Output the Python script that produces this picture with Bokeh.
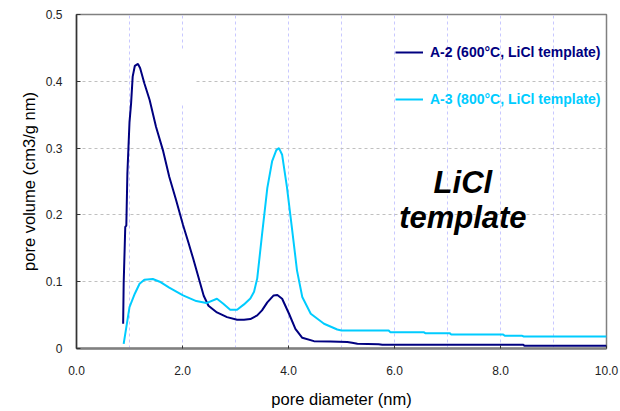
from bokeh.plotting import figure
from bokeh.models import (ColumnDataSource, Range1d, SingleIntervalTicker, NumeralTickFormatter,
                          Legend, LegendItem, Label, BoxAnnotation)
from bokeh.embed import file_html
from bokeh.resources import INLINE

# ---- data ----
a2_x = [0.88, 0.89, 0.92, 0.94, 0.96, 1.0, 1.03, 1.06, 1.10, 1.16, 1.20, 1.28, 1.38, 1.50, 1.63,
        1.75, 1.88, 2.01, 2.11, 2.20, 2.30, 2.40, 2.49, 2.65, 2.84, 3.03, 3.16, 3.28, 3.41, 3.50,
        3.60, 3.72, 3.79, 3.88, 4.01, 4.13, 4.26, 4.48, 4.79, 5.11, 5.20, 5.30, 5.70, 5.77, 8.43,
        8.45, 10.0]
a2_y = [0.037, 0.097, 0.182, 0.184, 0.262, 0.339, 0.367, 0.407, 0.423, 0.426, 0.420, 0.397, 0.372,
        0.332, 0.297, 0.257, 0.222, 0.185, 0.159, 0.135, 0.107, 0.079, 0.064, 0.054, 0.047, 0.043,
        0.043, 0.044, 0.0495, 0.057, 0.069, 0.0795, 0.080, 0.0745, 0.052, 0.0295, 0.016, 0.011,
        0.0105, 0.0098, 0.0085, 0.007, 0.0065, 0.0055, 0.0055, 0.004, 0.004]

a3_x = [0.89, 0.95, 1.0, 1.10, 1.19, 1.28, 1.44, 1.57, 1.75, 2.01, 2.26, 2.45, 2.65, 2.77, 2.90,
        3.03, 3.16, 3.28, 3.35, 3.41, 3.50, 3.60, 3.69, 3.77, 3.82, 3.88, 3.97, 4.07, 4.16, 4.26,
        4.42, 4.67, 4.92, 5.0, 5.89, 5.92, 6.55, 6.58, 7.04, 7.07, 8.05, 8.08, 8.41, 8.44, 10.0]
a3_y = [0.007, 0.037, 0.062, 0.082, 0.097, 0.103, 0.104, 0.100, 0.091, 0.0795, 0.071, 0.068,
        0.0745, 0.067, 0.058, 0.058, 0.066, 0.075, 0.085, 0.105, 0.17, 0.24, 0.28, 0.297, 0.30,
        0.29, 0.242, 0.177, 0.117, 0.077, 0.052, 0.037, 0.0285, 0.027, 0.027, 0.0245, 0.0245,
        0.023, 0.023, 0.021, 0.021, 0.019, 0.019, 0.018, 0.018]

series_labels = ["A-2 (600\u00b0C, LiCl template)", "A-3 (800\u00b0C, LiCl template)"]
series_colors = ["#000080", "#00ccff"]

x_label = "pore diameter (nm)"
y_label = "pore volume (cm3/g nm)"
annotation_lines = ["LiCl", "template"]

FONT = "Liberation Sans"

p = figure(width=620, height=411, output_backend="svg", toolbar_location=None,
           x_range=Range1d(0, 10), y_range=Range1d(0, 0.5),
           min_border_left=76, min_border_right=14, min_border_top=14, min_border_bottom=63)
p.background_fill_color = "white"
p.border_fill_color = "white"
p.outline_line_color = "#808080"
p.outline_line_width = 1.5

# grid
p.xgrid.ticker = SingleIntervalTicker(interval=1)
p.xgrid.grid_line_color = "#c8c8ff"
p.xgrid.grid_line_dash = "3 3"
p.ygrid.ticker = SingleIntervalTicker(interval=0.1)
p.ygrid.grid_line_color = "#c0c0c0"
p.ygrid.grid_line_dash = "3 3"

# artifact white box in the reference (hidden text box covering grid)
p.add_layout(BoxAnnotation(left=1.51, right=2.23, bottom=0.3645, top=0.447,
                           fill_color="white", fill_alpha=1, line_alpha=0, level="underlay"))

# axes
p.xaxis.ticker = SingleIntervalTicker(interval=2)
p.xaxis.formatter = NumeralTickFormatter(format="0.0")
p.yaxis.ticker = SingleIntervalTicker(interval=0.1)
p.yaxis.formatter = NumeralTickFormatter(format="0.0")
p.yaxis.major_label_overrides = {0: "0"}
for ax in (p.xaxis, p.yaxis):
    ax.minor_tick_line_color = None
    ax.major_tick_out = 0
    ax.major_label_text_font = FONT
    ax.major_label_text_font_size = "12px"
    ax.major_label_text_color = "#222222"
    ax.axis_label_text_font = FONT
    ax.axis_label_text_font_size = "16.5px"
    ax.axis_label_text_font_style = "normal"
    ax.axis_label_text_color = "black"
p.xaxis.major_tick_in = 3
p.yaxis.major_tick_in = 4
p.xaxis.axis_line_color = "#808080"
p.xaxis.axis_line_width = 2.5
p.xaxis.major_tick_line_color = "#333333"
p.yaxis.axis_line_color = "#333333"
p.yaxis.axis_line_width = 1.5
p.yaxis.major_tick_line_color = "#333333"
p.xaxis.major_label_standoff = 13
p.yaxis.major_label_standoff = 10
p.xaxis.axis_label = x_label
p.yaxis.axis_label = y_label
p.xaxis.axis_label_standoff = 12
p.yaxis.axis_label_standoff = 5

r2 = p.line(a2_x, a2_y, line_color=series_colors[0], line_width=2)
r3 = p.line(a3_x, a3_y, line_color=series_colors[1], line_width=2)

for r, lab, col, loc in [(r2, series_labels[0], series_colors[0], (319, 288)),
                         (r3, series_labels[1], series_colors[1], (319, 241))]:
    lg = Legend(items=[LegendItem(label=lab, renderers=[r])], location=loc,
                glyph_width=28, glyph_height=14, label_height=14, label_standoff=7,
                padding=0, margin=0, spacing=0,
                border_line_alpha=0, background_fill_alpha=0,
                label_text_font=FONT, label_text_font_size="14px",
                label_text_font_style="bold", label_text_color=col)
    p.add_layout(lg, "center")

p.add_layout(Label(x=7.29, y=0.249, text=annotation_lines[0], text_align="center",
                   text_baseline="alphabetic", text_font=FONT, text_font_size="31px",
                   text_font_style="bold italic", text_color="black"))
p.add_layout(Label(x=7.29, y=0.1965, text=annotation_lines[1], text_align="center",
                   text_baseline="alphabetic", text_font=FONT, text_font_size="31px",
                   text_font_style="bold italic", text_color="black"))

open("out.html", "w").write(file_html(p, INLINE))
